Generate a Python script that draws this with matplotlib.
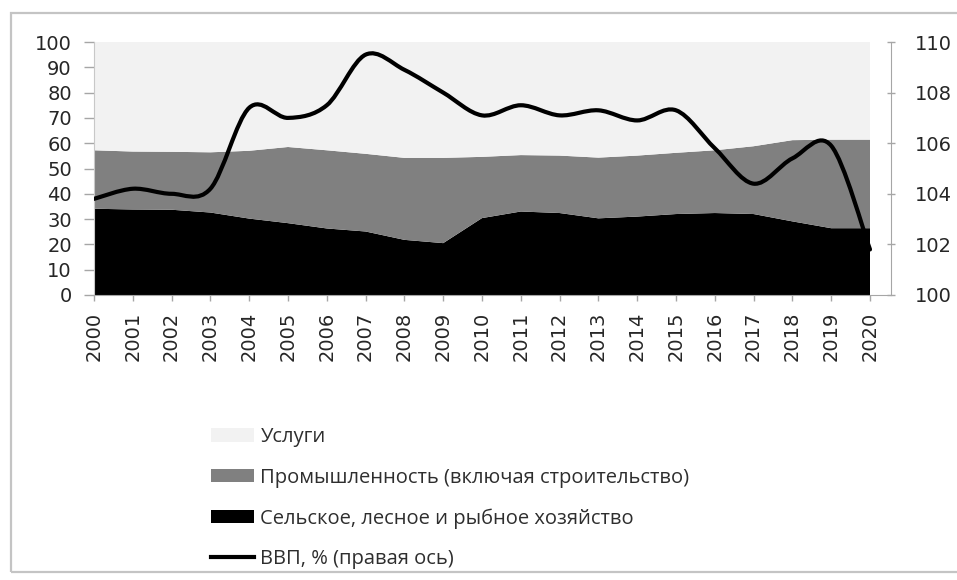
import matplotlib
matplotlib.use("Agg")
import matplotlib.pyplot as plt
from matplotlib.path import Path
from matplotlib.patches import PathPatch, Rectangle, Patch
from matplotlib.lines import Line2D
import numpy as np

# Структура ВВП (%) и рост ВВП (% к предыдущему году)
years = list(range(2000, 2021))
agriculture = [34.1, 33.8, 33.7, 32.6, 30.2, 28.4, 26.3, 25.1, 21.8, 20.5, 30.4,
               33.0, 32.4, 30.3, 31.0, 32.0, 32.4, 32.0, 29.1, 26.4, 26.4]
industry = [23.1, 22.9, 22.9, 23.8, 26.8, 30.1, 30.9, 30.7, 32.4, 33.7, 24.2,
            22.3, 22.7, 24.0, 24.1, 24.2, 24.8, 26.8, 32.1, 35.0, 35.0]
services = [42.8, 43.3, 43.4, 43.6, 43.0, 41.5, 42.8, 44.2, 45.8, 45.8, 45.4,
            44.7, 44.9, 45.7, 44.9, 43.8, 42.8, 41.2, 38.8, 38.6, 38.6]
gdp = [103.8, 104.2, 104.0, 104.2, 107.4, 107.0, 107.5, 109.5, 108.9, 108.0, 107.1,
       107.5, 107.1, 107.3, 106.9, 107.3, 105.8, 104.4, 105.4, 105.9, 101.8]

labels = ["Услуги",
          "Промышленность (включая строительство)",
          "Сельское, лесное и рыбное хозяйство",
          "ВВП, % (правая ось)"]

c_serv, c_ind, c_agr = "#f2f2f2", "#808080", "#000000"
tick_col = "#262626"
axis_col = "#a6a6a6"

W, H = 957, 580
fig = plt.figure(figsize=(W / 100, H / 100), dpi=100)

# outer chart frame
fig.patches.append(Rectangle((11 / W, 8 / H), 1.2, (567 - 8) / H, transform=fig.transFigure,
                             fill=False, edgecolor="#c4c4c4", linewidth=1.6))

x0, x1 = 94, 891
ax = fig.add_axes([x0 / W, (H - 295) / H, (x1 - x0) / W, (295 - 42) / H])
px_per_year = (870 - x0) / 20.0
ax.set_xlim(years[0], years[-1] + (x1 - 870) / px_per_year)
ax.set_ylim(0, 100)

ax.stackplot(years, agriculture, industry, services,
             colors=[c_agr, c_ind, c_serv], linewidth=0)

ax.set_yticks(range(0, 101, 10))
ax.set_xticks(years)
ax.set_xticklabels([str(y) for y in years], rotation=90)
ax.tick_params(axis="y", direction="out", length=7, width=1, color=axis_col,
               labelsize=14, labelcolor=tick_col, pad=9)
ax.tick_params(axis="x", direction="out", length=4, width=1, color=axis_col,
               labelsize=14, labelcolor=tick_col, pad=8)
for s in ("top", "right"):
    ax.spines[s].set_visible(False)
ax.spines["left"].set_color("#c8c8c8")
ax.spines["bottom"].set_color(axis_col)

# secondary axis with the smoothed GDP line
ax2 = ax.twinx()
ax2.set_ylim(100, 110)
ax2.set_yticks(range(100, 111, 2))
ax2.tick_params(axis="y", direction="inout", length=6, width=1, color=axis_col,
                labelsize=14, labelcolor=tick_col, pad=14)
for s in ("top", "left", "bottom"):
    ax2.spines[s].set_visible(False)
ax2.spines["right"].set_color(axis_col)

xs = np.array(years, dtype=float)
ys = np.array(gdp, dtype=float)
n = len(xs)
verts = [(xs[0], ys[0])]
codes = [Path.MOVETO]
for i in range(n - 1):
    p0 = np.array([xs[max(i - 1, 0)], ys[max(i - 1, 0)]])
    p1 = np.array([xs[i], ys[i]])
    p2 = np.array([xs[i + 1], ys[i + 1]])
    p3 = np.array([xs[min(i + 2, n - 1)], ys[min(i + 2, n - 1)]])
    c1 = p1 + (p2 - p0) / 6.0
    c2 = p2 - (p3 - p1) / 6.0
    verts += [tuple(c1), tuple(c2), tuple(p2)]
    codes += [Path.CURVE4] * 3
ax2.add_patch(PathPatch(Path(verts, codes), facecolor="none", edgecolor="black",
                        linewidth=3.0, capstyle="round", joinstyle="round", zorder=3))

handles = [Patch(facecolor=c_serv, edgecolor="none"),
           Patch(facecolor=c_ind, edgecolor="none"),
           Patch(facecolor=c_agr, edgecolor="none"),
           Line2D([], [], color="black", linewidth=3.0)]
fig.legend(handles, labels, loc="upper left", bbox_to_anchor=(211 / W, 1 - 427 / H),
           frameon=False, borderpad=0, borderaxespad=0,
           prop={"family": ["Open Sans", "DejaVu Sans"], "size": 14.5},
           handlelength=2.15, handleheight=0.65, handletextpad=0.3,
           labelspacing=1.02, labelcolor="#2e2e2e")

fig.savefig("out.png", dpi=100)
